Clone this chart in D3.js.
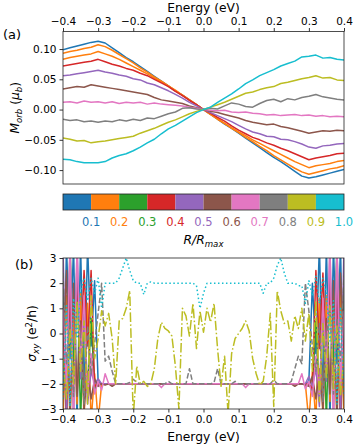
<!DOCTYPE html>
<html>
<head>
<meta charset="utf-8">
<script src="https://cdn.jsdelivr.net/npm/d3@7"></script>
<style>
  body { margin: 0; background: #fff; }
  text { font-family: "DejaVu Sans", sans-serif; }
</style>
</head>
<body>
<svg id="chart" width="357" height="446"></svg>
<script>

// ---- data: panel (a), orbital magnetisation vs energy ----
var ENERGY_A = [-0.40,-0.38,-0.36,-0.34,-0.32,-0.30,-0.28,-0.26,-0.24,-0.22,-0.20,-0.18,-0.16,-0.14,-0.12,-0.10,-0.08,-0.06,-0.04,-0.02,
    0.00,0.02,0.04,0.06,0.08,0.10,0.12,0.14,0.16,0.18,0.20,0.22,0.24,0.26,0.28,0.30,0.32,0.34,0.36,0.38,0.40];

var M_R01 = [0.099,0.102,0.105,0.108,0.111,0.113,0.110,0.102,0.094,0.086,0.079,0.071,0.063,0.055,0.047,0.039,0.031,0.024,0.016,0.008,
    0.000,-0.008,-0.016,-0.024,-0.031,-0.039,-0.047,-0.055,-0.063,-0.071,-0.079,-0.086,-0.094,-0.102,-0.110,-0.113,-0.111,-0.108,-0.105,-0.102,-0.099];
var M_R02 = [0.093,0.096,0.098,0.101,0.103,0.107,0.104,0.098,0.091,0.084,0.077,0.069,0.062,0.054,0.047,0.039,0.031,0.024,0.016,0.008,
    0.000,-0.008,-0.016,-0.023,-0.031,-0.038,-0.046,-0.053,-0.061,-0.068,-0.076,-0.083,-0.090,-0.097,-0.103,-0.107,-0.104,-0.101,-0.098,-0.096,-0.093];
var M_R03 = [0.083,0.086,0.088,0.090,0.092,0.096,0.092,0.088,0.083,0.077,0.071,0.065,0.059,0.052,0.046,0.039,0.032,0.024,0.016,0.008,
    0.000,-0.008,-0.015,-0.023,-0.030,-0.037,-0.043,-0.050,-0.056,-0.062,-0.068,-0.074,-0.080,-0.086,-0.091,-0.096,-0.093,-0.091,-0.089,-0.086,-0.084];
var M_R04 = [0.072,0.074,0.076,0.078,0.080,0.083,0.079,0.075,0.072,0.068,0.065,0.060,0.056,0.050,0.044,0.038,0.030,0.023,0.015,0.008,
    0.000,-0.006,-0.013,-0.019,-0.027,-0.034,-0.040,-0.046,-0.050,-0.055,-0.059,-0.064,-0.068,-0.073,-0.078,-0.083,-0.080,-0.078,-0.076,-0.073,-0.072];
var M_R05 = [0.056,0.057,0.059,0.061,0.063,0.065,0.062,0.060,0.057,0.055,0.051,0.049,0.044,0.041,0.036,0.031,0.025,0.019,0.012,0.006,
    0.000,-0.005,-0.010,-0.015,-0.020,-0.026,-0.032,-0.037,-0.040,-0.044,-0.045,-0.049,-0.050,-0.053,-0.057,-0.062,-0.064,-0.060,-0.059,-0.057,-0.056];
var M_R06 = [0.034,0.036,0.038,0.037,0.041,0.039,0.037,0.035,0.033,0.031,0.029,0.027,0.025,0.020,0.016,0.014,0.012,0.010,0.006,0.003,
    0.000,-0.003,-0.005,-0.008,-0.011,-0.014,-0.018,-0.021,-0.023,-0.025,-0.024,-0.028,-0.030,-0.033,-0.036,-0.039,-0.037,-0.035,-0.036,-0.034,-0.035];
var M_R07 = [0.012,0.013,0.011,0.014,0.012,0.013,0.011,0.013,0.010,0.012,0.011,0.012,0.009,0.011,0.009,0.008,0.007,0.006,0.004,0.002,
    0.000,-0.001,-0.002,-0.001,-0.004,-0.005,-0.004,-0.006,-0.007,-0.009,-0.008,-0.010,-0.009,-0.008,-0.010,-0.009,-0.011,-0.010,-0.012,-0.011,-0.012];
var M_R08 = [-0.016,-0.018,-0.017,-0.020,-0.019,-0.021,-0.019,-0.020,-0.017,-0.019,-0.016,-0.018,-0.014,-0.015,-0.011,-0.007,-0.004,0.002,0.003,0.001,
    0.000,0.002,0.001,0.006,0.011,0.009,0.005,0.004,0.010,0.015,0.017,0.013,0.018,0.016,0.020,0.022,0.025,0.021,0.019,0.017,0.016];
var M_R09 = [-0.047,-0.049,-0.052,-0.051,-0.055,-0.053,-0.052,-0.050,-0.048,-0.046,-0.044,-0.039,-0.035,-0.031,-0.026,-0.021,-0.017,-0.012,-0.007,-0.003,
    0.000,0.004,0.008,0.012,0.017,0.022,0.027,0.029,0.033,0.036,0.038,0.043,0.045,0.048,0.051,0.053,0.056,0.052,0.053,0.049,0.048];
var M_R10 = [-0.082,-0.083,-0.086,-0.088,-0.088,-0.088,-0.086,-0.080,-0.076,-0.073,-0.068,-0.062,-0.055,-0.049,-0.040,-0.032,-0.026,-0.019,-0.012,-0.005,
    0.000,0.004,0.012,0.019,0.026,0.034,0.043,0.049,0.056,0.061,0.066,0.072,0.076,0.080,0.087,0.088,0.090,0.085,0.086,0.083,0.082];

var R_LABELS = ["0.1","0.2","0.3","0.4","0.5","0.6","0.7","0.8","0.9","1.0"];
var R_COLORS = ["#1f77b4","#ff7f0e","#2ca02c","#d62728","#9467bd","#8c564b","#e377c2","#7f7f7f","#bcbd22","#17becf"];
// in panel (a) the R=0.3 curve is drawn orange in the original figure
var COLORS_A = ["#1f77b4","#ff7f0e","#ff7f0e","#d62728","#9467bd","#8c564b","#e377c2","#7f7f7f","#bcbd22","#17becf"];

// ---- data: panel (b), Hall conductivity vs energy ----
var ENERGY_B = [-0.40,-0.39,-0.38,-0.37,-0.36,-0.35,-0.34,-0.33,-0.32,-0.31,
    -0.30,-0.29,-0.28,-0.27,-0.26,-0.25,-0.24,-0.23,-0.22,-0.21,
    -0.20,-0.19,-0.18,-0.17,-0.16,-0.15,-0.14,-0.13,-0.12,-0.11,
    -0.10,-0.09,-0.08,-0.07,-0.06,-0.05,-0.04,-0.03,-0.02,-0.01,
    0.00,0.01,0.02,0.03,0.04,0.05,0.06,0.07,0.08,0.09,
    0.10,0.11,0.12,0.13,0.14,0.15,0.16,0.17,0.18,0.19,
    0.20,0.21,0.22,0.23,0.24,0.25,0.26,0.27,0.28,0.29,
    0.30,0.31,0.32,0.33,0.34,0.35,0.36,0.37,0.38,0.39,
    0.40];

var S_R01 = [-3.5,3.5,-1.0,3.5,-3.5,3.5,-2.5,3.5,-0.5,2.1,
    -1.9,-2,-2,-2,-2,-2,-2,-2,-2,-2,
    -2,-2,-2,-2,-2,-2,-2,-2,-2,-2,
    -2,-2,-2,-2,-2,-2,-2,-2,-2,-2,
    -2,-2,-2,-2,-2,-2,-2,-2,-2,-2,
    -2,-2,-2,-2,-2,-2,-2,-2,-2,-2,
    -2,-2,-2,-2,-2,-2,-2,-2,-2,-2,
    -1.9,2.0,-0.8,3.5,-2.6,3.5,-3.5,3.5,-1.2,3.5,
    -3.5];
var S_R02 = [-3.5,1.5,-3.5,0.8,-2.8,1.6,-3.5,1.2,-3.5,-1.6,
    -3.5,-2,-2,-2,-2,-2,-2,-2,-2,-2,
    -2,-2,-2,-2,-2,-2,-2,-2,-2,-2,
    -2,-2,-2,-2,-2,-2,-2,-2,-2,-2,
    -2,-2,-2,-2,-2,-2,-2,-2,-2,-2,
    -2,-2,-2,-2,-2,-2,-2,-2,-2,-2,
    -2,-2,-2,-2,-2,-2,-2,-2,-2,-2,
    -3.5,-1.5,-3.5,1.4,-3.5,1.5,-2.7,0.9,-3.5,1.7,
    -3.5];
var S_R03 = [2.0,-3.5,3.5,-1.5,2.8,-3.5,1.0,-2.4,0.6,-2.2,
    -2,-2,-2,-2,-2,-2,-2,-2,-2,-2,
    -2,-2,-2,-2,-2,-2,-2,-2,-2,-2,
    -2,-2,-2,-2,-2,-2,-2,-2,-2,-2,
    -2,-2,-2,-2,-2,-2,-2,-2,-2,-2,
    -2,-2,-2,-2,-2,-2,-2,-2,-2,-2,
    -2,-2,-2,-2,-2,-2,-2,-2,-2,-2,
    -2,-2.3,0.5,-2.5,1.1,-3.5,2.6,-1.4,3.5,-3.5,
    2.2];
var S_R04 = [0.5,-3.5,1.8,-2.5,2.2,-1.0,2.5,-0.5,2.5,-2.1,
    -2,-2,-2,-2,-2,-2,-2,-2,-2,-2,
    -2,-2,-2,-2,-2,-2,-2,-2,-2,-2,
    -2,-2,-2,-2,-2,-2,-2,-2,-2,-2,
    -2,-2,-2,-2,-2,-2,-2,-2,-2,-2,
    -2,-2,-2,-2,-2,-2,-2,-2,-2,-2,
    -2,-2,-2,-2,-2,-2,-2,-2,-2,-2,
    -2.0,-2.2,2.5,-0.6,2.4,-1.2,2.1,-2.6,1.9,-3.5,
    0.6];
var S_R05 = [3.5,-3.5,3.5,-3.5,3.5,-1.8,0.7,-2.8,-1.5,-2.0,
    -1.8,-2,-2,-2,-2,-2,-2,-2,-2,-2,
    -2,-2,-2,-2,-2,-2,-2,-2,-2,-2,
    -2,-2,-2,-2,-2,-2,-2,-2,-2,-2,
    -2,-2,-2,-2,-2,-2,-2,-2,-2,-2,
    -2,-2,-2,-2,-2,-2,-2,-2,-2,-2,
    -2,-2,-2,-2,-2,-2,-2,-2,-2,-2,
    -1.7,-2.1,-1.4,-2.9,0.8,-1.9,3.5,-3.5,3.5,-3.5,
    3.5];
var S_R06 = [-0.5,2.5,-3.5,2.0,-2.5,0.5,-3.0,-1.5,-2.6,-1.8,
    -2.1,-2.0,-2.05,-2.0,-2.1,-2.0,-2.0,-2.0,-2.0,-2.0,
    -2,-2,-2,-2,-2,-2,-2,-2,-2,-2,
    -2,-2,-2,-2,-2,-2,-2,-2,-2,-2,
    -2,-2,-2,-2,-2,-2,-2,-2,-2,-2,
    -2,-2,-2,-2,-2,-2,-2,-2,-2,-2,
    -2.0,-2.0,-2.0,-2.0,-2.0,-2.0,-2.1,-2.0,-2.0,-2.05,
    -2.1,-1.7,-2.6,-1.4,-3.0,0.6,-2.4,2.1,-3.5,2.4,
    -0.4];
var S_R07 = [1.0,-2.0,3.5,-3.5,3.5,-1.2,1.5,-2.5,-0.8,-2.4,
    -1.9,-2.25,-1.6,-2.0,-2.0,-2.0,-2.0,-2.0,-2.0,-2.0,
    -2,-2,-2,-2,-2,-2,-2,-2,-2.15,-2,
    -2,-2,-2,-2,-2,-2,-2,-2,-2,-2,
    -2,-2,-2,-2,-2,-2,-2,-2,-2,-2,
    -2,-2,-2.15,-2,-2,-2,-2,-2,-2,-2,
    -2,-2,-2,-2,-2,-2,-2,-2,-1.6,-2.2,
    -1.9,-2.5,-0.9,-2.4,1.4,-1.3,3.5,-3.5,3.5,-2.1,
    0.9];
var S_R08 = [2.4,-1.2,0.5,-2.5,1.2,-0.2,-2.8,0.3,-1.6,-0.4,
    0.8,2.0,-1.1,-0.9,-1.5,-2.0,-2.0,-2.0,-2.0,-1.95,
    -1.82,-1.95,-2,-2,-2,-2,-2,-2,-2,-2,
    -1.9,-2,-2,-2,-2,-2,-1.4,-2,-2,-2,
    -2,-2,-2,-1.95,-1.4,-2,-2,-2,-2,-1.9,
    -2,-2,-2,-2,-2,-2,-2,-2,-2,-2,
    -1.85,-2,-2,-2,-2,-1.9,-1.4,-0.9,-1.2,2.0,
    0.9,-0.5,-1.5,0.4,-2.7,-0.1,1.1,-2.4,0.6,-1.1,
    2.3];
var S_R09 = [-1.0,-2.6,0.2,-2.0,1.3,-1.5,0.5,-2.8,1.5,-1.0,
    -0.2,0.9,0.3,0.8,-0.2,-2.0,0.5,0.6,1.0,1.7,
    -3.3,-1.3,-2.0,-1.9,-2.1,-2.0,-1.4,-0.2,0.45,0.2,
    0.1,-0.1,-1.3,-3.0,1.0,0.7,-0.1,1.2,-0.6,0.9,
    0.05,1.0,0.45,1.2,-0.6,-2.1,-0.9,-3.2,-0.8,-0.2,
    0.0,0.2,0.5,0.1,-1.0,-1.6,-2.05,-1.9,-0.9,0.8,
    -2.9,1.7,0.9,0.4,0.5,-0.3,0.7,0.2,1.0,-0.3,
    0.8,-1.5,1.3,-2.7,0.4,-1.8,1.1,-2.2,0.3,-2.5,
    -0.8];
var S_R10 = [-2.6,1.1,-2.9,1.4,-0.2,1.7,2.2,1.3,2.2,1.6,
    2.2,1.0,2.0,2.0,2.0,2.0,2.2,2.6,3.0,2.5,
    2.1,2.0,2.0,1.55,2.0,2.05,2.0,2.0,2.0,2.0,
    2.0,2.0,2.0,2.0,2.0,2.0,2.0,2.0,1.9,1.0,
    1.6,2.0,2.0,2.0,2.0,2.0,2.0,2.0,2.0,2.0,
    2.0,2.0,2.0,2.0,2.0,2.0,2.0,1.6,2.0,2.0,
    2.2,2.7,3.0,2.4,2.0,2.0,2.0,1.9,1.9,1.2,
    2.1,1.5,2.3,1.2,2.2,1.6,-0.3,1.3,-2.8,1.0,
    -2.5];

// solid for R <= 0.7, then dashed, dash-dot, dotted
var DASH_B = [null,null,null,null,null,null,null,"5.5,2.4","9.6,2.4,1.5,2.4","1.5,2.5"];

var X_TICKS = [-0.4,-0.3,-0.2,-0.1,0.0,0.1,0.2,0.3,0.4];
var Y_TICKS_A = [-0.10,-0.05,0.00,0.05,0.10];
var Y_TICKS_B = [-3,-2,-1,0,1,2,3];

var seriesA = [M_R01,M_R02,M_R03,M_R04,M_R05,M_R06,M_R07,M_R08,M_R09,M_R10];
var seriesB = [S_R01,S_R02,S_R03,S_R04,S_R05,S_R06,S_R07,S_R08,S_R09,S_R10];

// ---- layout ----
var left = 63, right = 344;
var topA = 31.5, bottomA = 184;
var cbTop = 194, cbBottom = 210;
var topB = 258, bottomB = 409;

var svg = d3.select("#chart");

var x = d3.scaleLinear().domain([-0.4, 0.4]).range([left, right]);
var yA = d3.scaleLinear().domain([-0.123, 0.129]).range([bottomA, topA]);
var yB = d3.scaleLinear().domain([-3, 3]).range([bottomB, topB]);

var defs = svg.append("defs");
defs.append("clipPath").attr("id", "clipA").append("rect")
    .attr("x", left).attr("y", topA).attr("width", right - left).attr("height", bottomA - topA);
defs.append("clipPath").attr("id", "clipB").append("rect")
    .attr("x", left).attr("y", topB).attr("width", right - left).attr("height", bottomB - topB);

function styleAxis(g) {
    g.select(".domain").remove();
    g.selectAll(".tick line").attr("stroke", "#000").attr("stroke-width", 0.8);
    g.selectAll(".tick text").attr("font-size", "10.5px").attr("fill", "#000")
        .attr("font-family", "DejaVu Sans");
}

// ---- panel (a) ----
var lineA = d3.line()
    .x(function(d, i) { return x(ENERGY_A[i]); })
    .y(function(d) { return yA(d); });

svg.append("g").attr("clip-path", "url(#clipA)")
    .selectAll("path")
    .data(seriesA)
    .enter()
    .append("path")
    .attr("d", lineA)
    .attr("fill", "none")
    .attr("stroke", function(d, i) { return COLORS_A[i]; })
    .attr("stroke-width", 1.5)
    .attr("stroke-linejoin", "round");

svg.append("g")
    .attr("transform", "translate(0," + topA + ")")
    .call(d3.axisTop(x).tickValues(X_TICKS).tickFormat(d3.format(".1f")).tickSize(3.5).tickPadding(3))
    .call(styleAxis);

svg.append("g")
    .attr("transform", "translate(" + left + ",0)")
    .call(d3.axisLeft(yA).tickValues(Y_TICKS_A).tickFormat(d3.format(".2f")).tickSize(3.5).tickPadding(3))
    .call(styleAxis);

svg.append("rect")
    .attr("x", left).attr("y", topA).attr("width", right - left).attr("height", bottomA - topA)
    .attr("fill", "none").attr("stroke", "#222").attr("stroke-width", 0.8);

svg.append("text")
    .attr("x", (left + right) / 2).attr("y", 12)
    .attr("text-anchor", "middle").attr("font-size", "12.3px")
    .text("Energy (eV)");

svg.append("text").attr("x", 3).attr("y", 39).attr("font-size", "13px").text("(a)");

var ylabA = svg.append("text")
    .attr("transform", "translate(19," + ((topA + bottomA) / 2) + ") rotate(-90)")
    .attr("text-anchor", "middle").attr("font-size", "12.3px");
ylabA.append("tspan").attr("font-style", "italic").text("M");
ylabA.append("tspan").attr("font-style", "italic").attr("font-size", "8.6px").attr("dy", "2.5").text("orb");
ylabA.append("tspan").attr("dy", "-2.5").text(" (");
ylabA.append("tspan").attr("font-style", "italic").text("μ");
ylabA.append("tspan").attr("font-style", "italic").attr("font-size", "8.6px").attr("dy", "2.5").text("b");
ylabA.append("tspan").attr("dy", "-2.5").text(")");

// ---- colour bar ----
var cb = d3.scaleLinear().domain([0, 1]).range([left, right]);

svg.append("g")
    .selectAll("rect")
    .data(R_LABELS)
    .enter()
    .append("rect")
    .attr("x", function(d) { return cb(+d - 0.1); })
    .attr("y", cbTop)
    .attr("width", function(d) { return cb(+d) - cb(+d - 0.1); })
    .attr("height", cbBottom - cbTop)
    .attr("fill", function(d, i) { return R_COLORS[i]; });

svg.append("rect")
    .attr("x", left).attr("y", cbTop).attr("width", right - left).attr("height", cbBottom - cbTop)
    .attr("fill", "none").attr("stroke", "#222").attr("stroke-width", 0.8);

svg.append("g")
    .selectAll("text")
    .data(R_LABELS)
    .enter()
    .append("text")
    .attr("x", function(d) { return cb(+d); })
    .attr("y", 226)
    .attr("text-anchor", "middle")
    .attr("font-size", "11.5px")
    .attr("fill", function(d, i) { return R_COLORS[i]; })
    .text(function(d) { return d; });

var cbLab = svg.append("text")
    .attr("x", (left + right) / 2).attr("y", 244)
    .attr("text-anchor", "middle").attr("font-size", "12.3px").attr("font-style", "italic");
cbLab.append("tspan").text("R/R");
cbLab.append("tspan").attr("font-size", "8.6px").attr("dy", "2.5").text("max");

// ---- panel (b) ----
var lineB = d3.line()
    .x(function(d, i) { return x(ENERGY_B[i]); })
    .y(function(d) { return yB(d); });

svg.append("g").attr("clip-path", "url(#clipB)")
    .selectAll("path")
    .data(seriesB)
    .enter()
    .append("path")
    .attr("d", lineB)
    .attr("fill", "none")
    .attr("stroke", function(d, i) { return R_COLORS[i]; })
    .attr("stroke-width", 1.5)
    .attr("stroke-dasharray", function(d, i) { return DASH_B[i]; })
    .attr("stroke-linejoin", "round");

svg.append("g")
    .attr("transform", "translate(0," + bottomB + ")")
    .call(d3.axisBottom(x).tickValues(X_TICKS).tickFormat(d3.format(".1f")).tickSize(3.5).tickPadding(3))
    .call(styleAxis);

svg.append("g")
    .attr("transform", "translate(" + left + ",0)")
    .call(d3.axisLeft(yB).tickValues(Y_TICKS_B).tickFormat(d3.format("d")).tickSize(3.5).tickPadding(3))
    .call(styleAxis);

svg.append("rect")
    .attr("x", left).attr("y", topB).attr("width", right - left).attr("height", bottomB - topB)
    .attr("fill", "none").attr("stroke", "#222").attr("stroke-width", 0.8);

svg.append("text")
    .attr("x", (left + right) / 2).attr("y", 441)
    .attr("text-anchor", "middle").attr("font-size", "12.3px")
    .text("Energy (eV)");

svg.append("text").attr("x", 15).attr("y", 269).attr("font-size", "13px").text("(b)");

var ylabB = svg.append("text")
    .attr("transform", "translate(36," + ((topB + bottomB) / 2) + ") rotate(-90)")
    .attr("text-anchor", "middle").attr("font-size", "12.3px");
ylabB.append("tspan").attr("font-style", "italic").text("σ");
ylabB.append("tspan").attr("font-style", "italic").attr("font-size", "8.6px").attr("dy", "2.5").text("xy");
ylabB.append("tspan").attr("dy", "-2.5").text(" (e");
ylabB.append("tspan").attr("font-size", "8.6px").attr("dy", "-4.5").text("2");
ylabB.append("tspan").attr("dy", "4.5").text("/h)");

</script>
</body>
</html>
